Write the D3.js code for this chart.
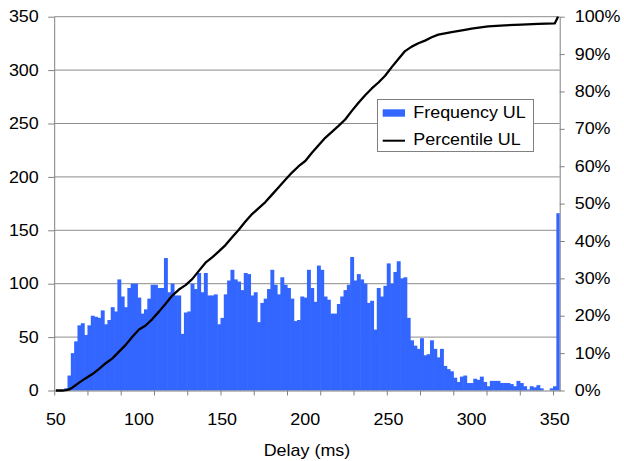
<!DOCTYPE html>
<html>
<head>
<meta charset="utf-8">
<script src="https://cdn.jsdelivr.net/npm/d3@7/dist/d3.min.js"></script>
<style>
	body { margin: 0; background: #fff; }
	svg text { font-family: "Liberation Sans", Arial, sans-serif; font-size: 16px; fill: #000; }
</style>
</head>
<body>
<svg id="chart" width="624" height="461"></svg>
<script>
// delay bins, 2 ms wide, from 50 to 352
const delays = d3.range(50, 353, 2);

// frequency per bin
const freq = [
	0, 0, 0, 2, 14, 35, 46, 61, 63, 52,
	61, 70, 69, 68, 75, 62, 66, 78, 74, 104,
	88, 78, 96, 100, 100, 87, 72, 76, 86, 99,
	99, 96, 96, 124, 92, 100, 89, 89, 53, 73,
	74, 100, 95, 110, 92, 110, 89, 89, 90, 62,
	68, 90, 103, 113, 104, 102, 94, 110, 109, 89,
	92, 64, 82, 86, 95, 113, 99, 90, 106, 99,
	96, 86, 65, 66, 88, 87, 113, 96, 83, 117,
	113, 88, 85, 72, 72, 81, 88, 94, 99, 125,
	103, 109, 104, 100, 82, 84, 57, 96, 88, 98,
	119, 100, 111, 121, 105, 106, 68, 47, 42, 39,
	49, 33, 34, 47, 39, 31, 39, 23, 20, 18,
	12, 8, 13, 14, 7, 7, 11, 10, 13, 8,
	4, 9, 9, 9, 7, 7, 7, 6, 4, 9,
	7, 4, 1, 4, 3, 5, 2, 0, 0, 2,
	4, 166
];

// percentile curve, sampled points (delay, %)
const pctDelay = [50, 54, 56, 58, 60, 64, 68, 72, 76, 80, 84, 88, 92, 96, 100, 104, 108, 112, 116, 120,
	124, 128, 132, 136, 140, 144, 148, 152, 156, 160, 164, 168, 172, 176, 180, 184, 188, 192, 196, 200,
	204, 208, 212, 216, 220, 224, 228, 232, 236, 240, 244, 248, 252, 256, 260, 264, 268, 272, 276, 280,
	288, 296, 300, 310, 320, 330, 340, 350, 352];
const pctValue = [0, 0, 0.1, 0.3, 0.8, 2.1, 3.3, 4.4, 5.8, 7.3, 8.6, 10.4, 12.2, 14.4, 16.3, 17.4, 19.1, 21.1, 23.2, 25.4,
	27.0, 28.2, 29.8, 32.0, 34.2, 35.6, 37.2, 38.9, 41.0, 43.0, 45.2, 47.2, 48.8, 50.4, 52.4, 54.4, 56.4, 58.3, 60.0, 61.4,
	63.6, 65.6, 67.6, 69.2, 70.8, 72.5, 74.8, 77.0, 79.0, 80.8, 82.4, 84.2, 86.5, 88.7, 90.8, 92.0, 92.9, 93.6, 94.5, 95.2,
	95.9, 96.5, 96.8, 97.4, 97.7, 97.9, 98.1, 98.2, 100];

const leftTicks = [0, 50, 100, 150, 200, 250, 300, 350];
const xLabels = [50, 100, 150, 200, 250, 300, 350];
const xTickMarks = d3.range(50, 351, 20);

const plotLeft = 54.2, plotRight = 559.7, plotTop = 16.7, plotBottom = 390.5;
const blue = '#3366ff';
const axisGray = '#808080';
const stretch = 'scale(1.12,1)';

let svg = d3.select('#chart');

let xBand = d3.scaleBand().domain(delays).range([plotLeft, plotRight]).padding(0);
let xLin = d3.scaleLinear().domain([50, 354]).range([plotLeft, plotRight]);
let yL = d3.scaleLinear().domain([0, 350]).range([plotBottom, plotTop]);
let yR = d3.scaleLinear().domain([0, 100]).range([plotBottom, plotTop]);

//gridlines
svg.append('g')
	.selectAll('line')
	.data(leftTicks.filter((d) => d > 0))
	.join('line')
	.attr('x1', plotLeft)
	.attr('x2', plotRight)
	.attr('y1', (d) => yL(d))
	.attr('y2', (d) => yL(d))
	.attr('stroke', '#8c8c8c')
	.attr('stroke-width', 1);

//bars, slightly widened so neighbours don't leave seams
svg.append('g')
	.selectAll('rect')
	.data(delays.map((d, i) => ({ d: d, v: freq[i] })))
	.join('rect')
	.attr('x', (p) => xBand(p.d))
	.attr('width', (p) => (p.d === 352 ? xBand.bandwidth() : xBand.bandwidth() + 0.6))
	.attr('y', (p) => yL(p.v))
	.attr('height', (p) => yL(0) - yL(p.v))
	.attr('fill', blue);

//axes
function styleAxis(g) {
	g.attr('font-family', null).attr('font-size', null);
	g.select('.domain').attr('stroke', axisGray);
	g.selectAll('.tick line').attr('stroke', axisGray);
	g.selectAll('.tick text').attr('transform', stretch);
}

svg.append('g')
	.attr('transform', 'translate(' + plotLeft + ',0)')
	.call(d3.axisLeft(yL).tickValues(leftTicks).tickSize(6).tickSizeOuter(0).tickPadding(7.8))
	.call(styleAxis);

svg.append('g')
	.attr('transform', 'translate(' + plotRight + ',0)')
	.call(d3.axisRight(yR).tickValues(d3.range(0, 101, 10)).tickSize(5).tickSizeOuter(0).tickPadding(8.4)
		.tickFormat((d) => d + '%'))
	.call(styleAxis);

svg.append('g')
	.attr('transform', 'translate(0,' + plotBottom + ')')
	.call(d3.axisBottom(xLin).tickValues(xTickMarks).tickSize(5).tickSizeOuter(0).tickFormat(''))
	.call(styleAxis);

svg.append('g')
	.attr('transform', 'translate(0,' + plotBottom + ')')
	.call(d3.axisBottom(xBand).tickValues(xLabels).tickSize(0).tickPadding(23))
	.call(styleAxis)
	.call((g) => g.select('.domain').remove());

svg.append('text')
	.attr('transform', 'translate(' + (plotLeft + plotRight) / 2 + ',456) ' + stretch)
	.attr('text-anchor', 'middle')
	.text('Delay (ms)');

//percentile line
let lineFunction = d3.line()
	.x((d) => xBand(d[0]) + xBand.bandwidth() / 2)
	.y((d) => yR(d[1]))
	.curve(d3.curveLinear);

svg.append('path')
	.attr('d', lineFunction(pctDelay.map((d, i) => [ d, pctValue[i] ])))
	.attr('fill', 'none')
	.attr('stroke', '#000')
	.attr('stroke-width', 2.3)
	.attr('stroke-linejoin', 'round');

//legend
let legend = svg.append('g').attr('transform', 'translate(377,99)');
legend.append('rect')
	.attr('x', 0.5).attr('y', 0.5)
	.attr('width', 156).attr('height', 52)
	.attr('fill', '#fff')
	.attr('stroke', axisGray);
legend.append('rect')
	.attr('x', 5.7).attr('y', 10.3)
	.attr('width', 22.3).attr('height', 7.4)
	.attr('fill', blue);
legend.append('line')
	.attr('x1', 5.7).attr('x2', 28)
	.attr('y1', 41.7).attr('y2', 41.7)
	.attr('stroke', '#000')
	.attr('stroke-width', 2);
legend.append('text')
	.attr('transform', 'translate(36.3,19.3) ' + stretch)
	.text('Frequency UL');
legend.append('text')
	.attr('transform', 'translate(36.3,46) ' + stretch)
	.text('Percentile UL');
</script>
</body>
</html>
